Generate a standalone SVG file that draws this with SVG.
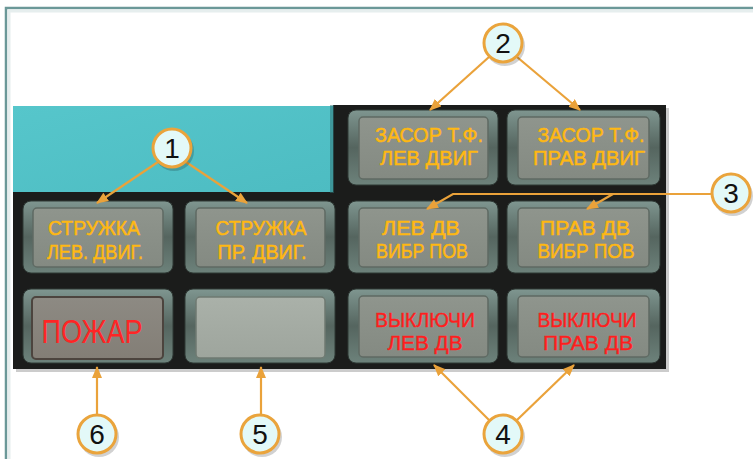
<svg xmlns="http://www.w3.org/2000/svg" width="753" height="459" viewBox="0 0 753 459">
<defs>
<linearGradient id="bez" x1="0" y1="0" x2="0" y2="1">
<stop offset="0" stop-color="#7f9690"/>
<stop offset="0.5" stop-color="#55655f"/>
<stop offset="1" stop-color="#6d827b"/>
</linearGradient>
<linearGradient id="face" x1="0" y1="0" x2="0" y2="1">
<stop offset="0" stop-color="#8f958d"/>
<stop offset="1" stop-color="#848a82"/>
</linearGradient>
<linearGradient id="faceFire" x1="0" y1="0" x2="0" y2="1">
<stop offset="0" stop-color="#8d8a83"/>
<stop offset="1" stop-color="#837e76"/>
</linearGradient>
<linearGradient id="faceBlank" x1="0" y1="0" x2="0" y2="1">
<stop offset="0" stop-color="#aab1a9"/>
<stop offset="1" stop-color="#9ea59d"/>
</linearGradient>
<linearGradient id="cyan" x1="0" y1="0" x2="1" y2="1">
<stop offset="0" stop-color="#56c6cb"/>
<stop offset="1" stop-color="#4dbcc2"/>
</linearGradient>
<marker id="ah" viewBox="0 0 12 10" refX="11" refY="5" markerWidth="12" markerHeight="10" markerUnits="userSpaceOnUse" orient="auto">
<path d="M0,0 L12,5 L0,10 Z" fill="#eaa23a"/>
</marker>
</defs>
<style>
.bz{fill:url(#bez);stroke:#2e3834;stroke-width:1}
.fc{fill:url(#face);stroke:#5f6a63;stroke-width:1.5}
.t{font-family:"Liberation Sans Narrow","Liberation Sans",Arial,sans-serif;text-anchor:middle}
.y{fill:#ffb812;stroke:#ffb812;stroke-width:0.5;font-size:20.5px}
.r{fill:#ff1e1e;stroke:#ff1e1e;stroke-width:0.4;font-size:20.5px}
.ln{stroke:#eaa23a;stroke-width:2.2;fill:none}
.cc{fill:#e3f9f8;stroke:#eaa43c;stroke-width:3}
.sh{fill:#000;opacity:0.18}
.num{font-family:"Liberation Sans",Arial,sans-serif;font-size:28px;fill:#111;text-anchor:middle}
</style>
<rect x="0" y="0" width="753" height="459" fill="#ffffff"/>
<path d="M6,459 V8 H753" fill="none" stroke="#6b9898" stroke-width="2.5"/>
<path d="M9,459 V11 H753" fill="none" stroke="#e6eeee" stroke-width="3"/>

<g id="panel">
<rect x="16" y="108" width="653" height="264" fill="#000" opacity="0.2"/>
<path d="M13,106 H333 V105 H666 V369 H13 Z" fill="#1b1c1b"/>
<rect x="13" y="106" width="320" height="86" fill="url(#cyan)"/>
<rect x="330" y="105" width="4" height="88" fill="#2d6f72" opacity="0.5"/>
</g>

<g id="btn-zasor-lev">
<rect class="bz" x="348" y="110" width="150" height="75" rx="8"/>
<rect class="fc" x="359" y="117" width="129" height="62" rx="4"/>
<text class="t y" x="429" y="142" textLength="108" lengthAdjust="spacingAndGlyphs">ЗАСОР Т.Ф.</text>
<text class="t y" x="429" y="165" textLength="98" lengthAdjust="spacingAndGlyphs">ЛЕВ ДВИГ</text>
</g>
<g id="btn-zasor-prav">
<rect class="bz" x="507" y="110" width="153" height="75" rx="8"/>
<rect class="fc" x="518" y="117" width="131" height="62" rx="4"/>
<text class="t y" x="591" y="142" textLength="107" lengthAdjust="spacingAndGlyphs">ЗАСОР Т.Ф.</text>
<text class="t y" x="589" y="165" textLength="112" lengthAdjust="spacingAndGlyphs">ПРАВ ДВИГ</text>
</g>

<g id="btn-struzhka-lev">
<rect class="bz" x="23" y="201" width="150" height="72" rx="8"/>
<rect class="fc" x="33" y="208" width="130" height="59" rx="4"/>
<text class="t y" x="94" y="235" textLength="92" lengthAdjust="spacingAndGlyphs">СТРУЖКА</text>
<text class="t y" x="95" y="259" textLength="96" lengthAdjust="spacingAndGlyphs">ЛЕВ. ДВИГ.</text>
</g>
<g id="btn-struzhka-pr">
<rect class="bz" x="185" y="201" width="150" height="72" rx="8"/>
<rect class="fc" x="196" y="208" width="129" height="59" rx="4"/>
<text class="t y" x="261" y="235" textLength="91" lengthAdjust="spacingAndGlyphs">СТРУЖКА</text>
<text class="t y" x="262" y="259" textLength="89" lengthAdjust="spacingAndGlyphs">ПР. ДВИГ.</text>
</g>
<g id="btn-vibr-lev">
<rect class="bz" x="348" y="201" width="150" height="72" rx="8"/>
<rect class="fc" x="359" y="208" width="129" height="59" rx="4"/>
<text class="t y" x="421" y="235" textLength="78" lengthAdjust="spacingAndGlyphs">ЛЕВ  ДВ</text>
<text class="t y" x="422" y="258" textLength="92" lengthAdjust="spacingAndGlyphs">ВИБР ПОВ</text>
</g>
<g id="btn-vibr-prav">
<rect class="bz" x="507" y="201" width="153" height="72" rx="8"/>
<rect class="fc" x="518" y="208" width="131" height="59" rx="4"/>
<text class="t y" x="585" y="235" textLength="90" lengthAdjust="spacingAndGlyphs">ПРАВ  ДВ</text>
<text class="t y" x="586" y="258" textLength="97" lengthAdjust="spacingAndGlyphs">ВИБР ПОВ</text>
</g>

<g id="btn-pozhar">
<rect class="bz" x="23" y="289" width="150" height="74" rx="8"/>
<rect x="32" y="297" width="131" height="62" rx="4" fill="url(#faceFire)" stroke="#4c443e" stroke-width="2"/>
<text class="t" x="92" y="343" fill="#ff2525" font-size="34" textLength="101" lengthAdjust="spacingAndGlyphs">ПОЖАР</text>
</g>
<g id="btn-blank">
<rect class="bz" x="185" y="289" width="150" height="74" rx="8"/>
<rect x="196" y="297" width="129" height="61" rx="4" fill="url(#faceBlank)" stroke="#6f7a72" stroke-width="1.5"/>
</g>
<g id="btn-vykl-lev">
<rect class="bz" x="348" y="289" width="150" height="74" rx="8"/>
<rect class="fc" x="359" y="296" width="129" height="61" rx="4"/>
<text class="t r" x="425" y="327" textLength="100" lengthAdjust="spacingAndGlyphs">ВЫКЛЮЧИ</text>
<text class="t r" x="425" y="350" textLength="75" lengthAdjust="spacingAndGlyphs">ЛЕВ  ДВ</text>
</g>
<g id="btn-vykl-prav">
<rect class="bz" x="507" y="289" width="153" height="74" rx="8"/>
<rect class="fc" x="518" y="296" width="131" height="61" rx="4"/>
<text class="t r" x="587" y="327" textLength="99" lengthAdjust="spacingAndGlyphs">ВЫКЛЮЧИ</text>
<text class="t r" x="588" y="350" textLength="90" lengthAdjust="spacingAndGlyphs">ПРАВ  ДВ</text>
</g>

<g id="connectors">
<line class="ln" x1="158" y1="162" x2="97" y2="203" marker-end="url(#ah)"/>
<line class="ln" x1="186" y1="162" x2="247" y2="203" marker-end="url(#ah)"/>
<line class="ln" x1="489" y1="57" x2="430" y2="110" marker-end="url(#ah)"/>
<line class="ln" x1="517" y1="57" x2="580" y2="110" marker-end="url(#ah)"/>
<path class="ln" d="M711,194 H453 L427,209" marker-end="url(#ah)"/>
<line class="ln" x1="613" y1="194" x2="587" y2="209" marker-end="url(#ah)"/>
<line class="ln" x1="489" y1="420" x2="434" y2="365" marker-end="url(#ah)"/>
<line class="ln" x1="517" y1="420" x2="574" y2="365" marker-end="url(#ah)"/>
<line class="ln" x1="261" y1="414" x2="261" y2="367" marker-end="url(#ah)"/>
<line class="ln" x1="97" y1="414" x2="97" y2="367" marker-end="url(#ah)"/>
</g>

<g id="callout-1"><circle class="sh" cx="174" cy="151" r="20"/><circle class="cc" cx="172" cy="148" r="19"/><text class="num" x="172" y="158">1</text></g>
<g id="callout-2"><circle class="sh" cx="505" cy="46" r="20"/><circle class="cc" cx="503" cy="43" r="19"/><text class="num" x="503" y="53">2</text></g>
<g id="callout-3"><circle class="sh" cx="733" cy="196" r="20"/><circle class="cc" cx="731" cy="193" r="19"/><text class="num" x="731" y="203">3</text></g>
<g id="callout-4"><circle class="sh" cx="505" cy="437" r="20"/><circle class="cc" cx="503" cy="434" r="19"/><text class="num" x="503" y="444">4</text></g>
<g id="callout-5"><circle class="sh" cx="262" cy="437" r="20"/><circle class="cc" cx="260" cy="434" r="19"/><text class="num" x="260" y="444">5</text></g>
<g id="callout-6"><circle class="sh" cx="99" cy="437" r="20"/><circle class="cc" cx="97" cy="434" r="19"/><text class="num" x="97" y="444">6</text></g>
</svg>
